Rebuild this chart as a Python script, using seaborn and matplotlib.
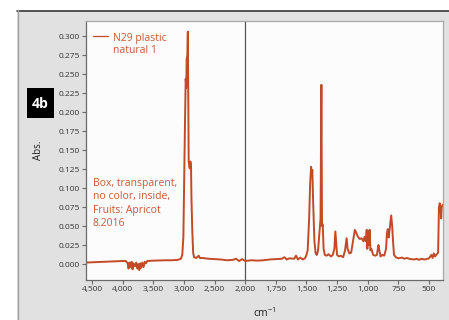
"""
FTIR spectrum, sample N29 (plastic box)
"""
import numpy as np
import pandas as pd
import matplotlib
matplotlib.use('Agg')
import matplotlib.pyplot as plt
from matplotlib.patches import Rectangle
from matplotlib.lines import Line2D
from matplotlib.ticker import FuncFormatter, FixedLocator
import seaborn as sns

# spectrum (wavenumber in cm-1, absorbance)
wavenumber = [
    4600, 4450, 4300, 4150, 4000, 3950, 3920, 3905, 3890, 3870, 3855, 3840,
    3825, 3800, 3780, 3760, 3745, 3730, 3715, 3700, 3680, 3660, 3640, 3620,
    3600, 3500, 3400, 3300, 3200, 3100, 3050, 3028, 3010, 3000, 2984, 2972,
    2962, 2956, 2945, 2937, 2932, 2928, 2923, 2915, 2907, 2895, 2885, 2878,
    2864, 2850, 2836, 2800, 2760, 2740, 2700, 2600, 2500, 2400, 2300, 2200,
    2150, 2100, 2050, 2000, 1950, 1900, 1850, 1800, 1750, 1700, 1680, 1660,
    1640, 1600, 1585, 1570, 1550, 1530, 1510, 1500, 1490, 1478, 1470, 1462,
    1457, 1452, 1445, 1435, 1425, 1415, 1405, 1392, 1385, 1378, 1373, 1367,
    1360, 1350, 1335, 1320, 1300, 1285, 1272, 1264, 1258, 1250, 1235, 1220,
    1200, 1185, 1172, 1164, 1150, 1135, 1120, 1105, 1095, 1080, 1065, 1050,
    1035, 1025, 1015, 1008, 1003, 997, 990, 983, 978, 970, 955, 940,
    925, 912, 905, 895, 880, 865, 850, 843, 836, 828, 818, 808,
    800, 793, 785, 770, 750, 720, 700, 680, 650, 620, 600, 580,
    560, 540, 520, 500, 480, 470, 460, 450, 440, 425, 418, 412,
    405, 400, 395, 387,
]
absorbance = [
    0.002, 0.0025, 0.003, 0.0035, 0.004, 0.004, 0.001, -0.006, 0.002, -0.004, 0.003, -0.007,
    0.001, -0.003, 0.002, -0.006, 0.000, -0.008, 0.001, -0.005, 0.002, -0.004, 0.003, 0.001,
    0.004, 0.0045, 0.0048, 0.005, 0.005, 0.0055, 0.007, 0.012, 0.035, 0.095, 0.183, 0.244,
    0.232, 0.270, 0.275, 0.306, 0.240, 0.183, 0.135, 0.130, 0.126, 0.135, 0.130, 0.087,
    0.043, 0.015, 0.009, 0.008, 0.011, 0.008, 0.008, 0.007, 0.0065, 0.006, 0.005, 0.0055,
    0.007, 0.004, 0.0065, 0.004, 0.005, 0.0045, 0.005, 0.006, 0.0065, 0.007, 0.009, 0.006,
    0.0075, 0.007, 0.011, 0.006, 0.0085, 0.006, 0.008, 0.012, 0.018, 0.060, 0.105, 0.128,
    0.118, 0.124, 0.080, 0.030, 0.014, 0.012, 0.018, 0.045, 0.060, 0.236, 0.050, 0.052,
    0.020, 0.012, 0.011, 0.013, 0.010, 0.012, 0.020, 0.043, 0.030, 0.012, 0.010, 0.011,
    0.009, 0.018, 0.034, 0.020, 0.014, 0.015, 0.030, 0.045, 0.042, 0.036, 0.033, 0.034,
    0.030, 0.036, 0.030, 0.045, 0.020, 0.044, 0.025, 0.045, 0.018, 0.020, 0.012, 0.011,
    0.012, 0.025, 0.018, 0.010, 0.012, 0.011, 0.020, 0.040, 0.046, 0.035, 0.050, 0.064,
    0.050, 0.030, 0.012, 0.009, 0.0075, 0.0085, 0.007, 0.008, 0.0065, 0.006, 0.007, 0.0055,
    0.007, 0.006, 0.0065, 0.0075, 0.012, 0.008, 0.014, 0.010, 0.012, 0.015, 0.075, 0.080,
    0.075, 0.060, 0.075, 0.078,
]
x_ticks = [4500, 4000, 3500, 3000, 2500, 2000, 1750, 1500, 1250, 1000, 750, 500]
y_ticks = [0.0, 0.025, 0.05, 0.075, 0.1, 0.125, 0.15, 0.175, 0.2, 0.225, 0.25, 0.275, 0.3]
series_label = 'N29 plastic\nnatural 1'
note = 'Box, transparent,\nno color, inside,\nFruits: Apricot\n8.2016'

line_color = '#c24a26'
text_color = '#c65a35'

sns.set_style('ticks')
plt.rcParams['font.family'] = ['Open Sans', 'DejaVu Sans']
plt.rcParams['mathtext.fontset'] = 'custom'
plt.rcParams['mathtext.rm'] = 'Open Sans'


# wavenumbers above 2000 are drawn at half scale
def fwd(x):
    x = np.asarray(x, dtype=float)
    return np.where(x > 2000, 2000 + (x - 2000) / 2, x)


def inv(y):
    y = np.asarray(y, dtype=float)
    return np.where(y > 2000, 2000 + (y - 2000) * 2, y)


df = pd.DataFrame({'wn': wavenumber, 'abs': absorbance})

fig = plt.figure(figsize=(4.49, 3.20), dpi=100)
fig.patch.set_facecolor('white')

# grey panel behind the chart
fig.add_artist(Rectangle((17 / 449, 0), 1 - 17 / 449, 1 - 10 / 320,
                         transform=fig.transFigure, facecolor='#e1e1e1',
                         edgecolor='none', zorder=0))
fig.add_artist(Line2D([17 / 449, 1], [1 - 10.5 / 320] * 2, transform=fig.transFigure,
                      color='#3a3a3a', lw=1.2, zorder=1))
fig.add_artist(Line2D([17.5 / 449] * 2, [0, 1 - 10 / 320], transform=fig.transFigure,
                      color='#a0a0a0', lw=1.0, zorder=1))

ax = fig.add_axes([86 / 449, 40 / 320, 357 / 449, 259 / 320])
ax.set_facecolor('#fcfcfc')

ax.set_xscale('function', functions=(fwd, inv))
sns.lineplot(data=df, x='wn', y='abs', ax=ax, color=line_color, lw=1.4,
             estimator=None, sort=False, label=series_label)
ax.axvline(2000, color='#555555', lw=0.9, zorder=1)

ax.set_xlim(4600, 385)
ax.set_ylim(-0.021, 0.32)
ax.xaxis.set_major_locator(FixedLocator(x_ticks))
ax.xaxis.set_minor_locator(FixedLocator([]))
ax.xaxis.set_major_formatter(FuncFormatter(lambda v, p: f'{v:,.0f}'))
ax.yaxis.set_major_locator(FixedLocator(y_ticks))
ax.yaxis.set_major_formatter(FuncFormatter(lambda v, p: f'{v:.3f}'))

for side in ['left', 'bottom']:
    ax.spines[side].set_color('#6a6a6a')
    ax.spines[side].set_linewidth(0.9)
for side in ['top', 'right']:
    ax.spines[side].set_color('#a8a8a8')
    ax.spines[side].set_linewidth(0.9)
ax.tick_params(direction='out', length=3, width=0.8, color='#6a6a6a',
               labelsize=6, labelcolor='#333333', pad=1.5)

ax.set_xlabel('cm$^{-1}$', fontsize=7.5, color='#222222')
ax.xaxis.set_label_coords(0.5, -0.10)
ax.set_ylabel('Abs.', fontsize=7, color='#222222')
ax.yaxis.set_label_coords(-0.118, 0.5)

leg = ax.legend(loc='upper left', bbox_to_anchor=(0.019, 0.955), frameon=False,
                fontsize=7.5, handlelength=1.45, handletextpad=0.45,
                borderpad=0, borderaxespad=0, labelcolor=text_color)
for h in leg.get_lines():
    h.set_linewidth(0.9)
# put the legend line beside the first text line
for row in leg._legend_handle_box.get_children():
    for item in row.get_children():
        item.align = 'top'

ax.text(0.0196, 0.394, note, transform=ax.transAxes, ha='left', va='top',
        fontsize=7.5, color=text_color, linespacing=1.3)

# figure tag
fig.add_artist(Rectangle((27 / 449, 1 - 118 / 320), 27 / 449, 30 / 320,
                         transform=fig.transFigure, facecolor='black',
                         edgecolor='none', zorder=2))
fig.text(40.5 / 449, 1 - 103.5 / 320, '4b', color='white', fontsize=10,
         fontweight='bold', ha='center', va='center', zorder=3)

plt.savefig('out.png', dpi=100)
